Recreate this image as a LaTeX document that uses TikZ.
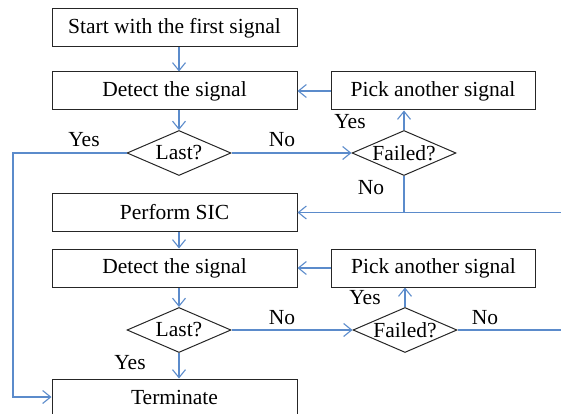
\documentclass[tikz,border=0pt]{standalone}
\usepackage{fontspec}
\setmainfont{Liberation Serif}
\usetikzlibrary{shapes.geometric,arrows.meta}
\definecolor{lineblue}{HTML}{5B8BCB}
\tikzset{
  txt/.style={font=\fontsize{21.5}{24}\selectfont},
  box/.style={txt, draw=black!85, line width=1pt, minimum width=245pt, minimum height=38pt, inner sep=0pt},
  pbox/.style={txt, draw=black!85, line width=1pt, minimum width=204pt, minimum height=38pt, inner sep=0pt},
  dia/.style={txt, draw=black!85, line width=1pt, diamond, aspect=2.6, minimum width=104pt, minimum height=45pt, inner sep=-4pt},
  lbl/.style={txt, inner sep=0pt},
  conn/.style={draw=lineblue, line width=1.1pt},
  arr/.style={conn, -{Straight Barb[length=8pt,width=13pt,line width=1.1pt]}},
}
\begin{document}
\begin{tikzpicture}[x=1pt,y=-1pt]
\useasboundingbox (0,0) rectangle (561,414);
\node[box] (start) at (174.5,28) {Start with the first signal};
\node[box] (det1) at (174.5,91) {Detect the signal};
\node[dia] (last1) at (179,153) {Last?};
\node[pbox] (pick1) at (433,91) {Pick another signal};
\node[dia] (fail1) at (404,153) {Failed?};
\node[box] (sic) at (174.5,212.5) {Perform SIC};
\node[box] (det2) at (174.5,268) {Detect the signal};
\node[dia] (last2) at (179,330) {Last?};
\node[pbox] (pick2) at (433.5,268) {Pick another signal};
\node[dia] (fail2) at (405,330) {Failed?};
\node[box, minimum height=36pt] (term) at (174.5,397) {Terminate};
\coordinate (ltop) at (13,153);
\coordinate (j1) at (fail1.south |- sic.east);
\coordinate (rin) at (561,212.5);
\coordinate (rout) at (561,330);

\node[lbl] at (84,140) {Yes};
\node[lbl] at (282,140) {No};
\node[lbl] at (350,122) {Yes};
\node[lbl] at (371,188) {No};
\node[lbl] at (282,318) {No};
\node[lbl] at (130,363) {Yes};
\node[lbl] at (365,298) {Yes};
\node[lbl] at (485,318) {No};

\draw[arr] (start.south -| last1.north) -- (det1.north -| last1.north);
\draw[arr] (det1.south -| last1.north) -- (last1.north);
\draw[arr] (last1.east) -- (fail1.west);
\draw[arr] (fail1.north) -- (fail1.north |- pick1.south);
\draw[arr] (pick1.west) -- (det1.east);
\draw[conn] (fail1.south) -- (j1);
\draw[arr] (rin) -- (sic.east);
\draw[arr] (last1.west) -- (ltop) |- (term.west);
\draw[arr] (sic.south -| last1.north) -- (det2.north -| last1.north);
\draw[arr] (det2.south -| last2.north) -- (last2.north);
\draw[arr] (last2.east) -- (fail2.west);
\draw[arr] (last2.south) -- (last2.south |- term.north);
\draw[arr] (fail2.north) -- (fail2.north |- pick2.south);
\draw[arr] (pick2.west) -- (det2.east);
\draw[conn] (fail2.east) -- (rout);
\end{tikzpicture}
\end{document}
